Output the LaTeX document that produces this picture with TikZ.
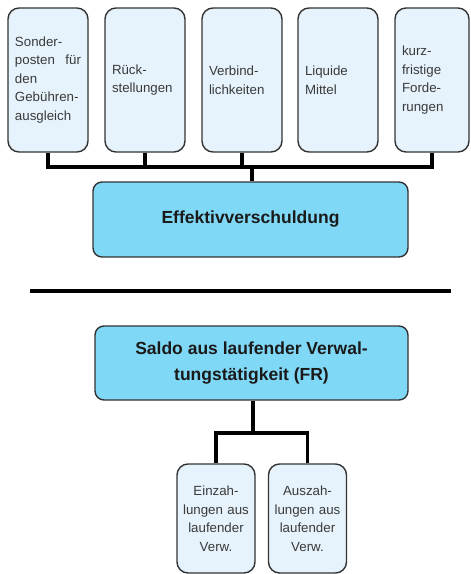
\documentclass[tikz,border=0pt]{standalone}
\usepackage{fontspec}
\setmainfont{Liberation Sans}
\definecolor{bordc}{HTML}{333333}
\definecolor{lightc}{HTML}{E6F3FC}
\definecolor{bluec}{HTML}{80D8F7}
\definecolor{txtc}{HTML}{3A3A3A}
\definecolor{darkc}{HTML}{1A1A1A}
\begin{document}
\begin{tikzpicture}[x=1pt,y=-1pt,
  smallbox/.style={draw=bordc, line width=1.4pt, fill=lightc, rounded corners=11pt,
    minimum height=144pt, inner xsep=7pt, inner ysep=0pt, text width=66pt, align=left,
    text=txtc, font=\fontsize{13.3pt}{18.5pt}\selectfont},
  lowbox/.style={smallbox, minimum height=109pt, inner xsep=4pt, text width=70pt, align=center},
  bigbox/.style={draw=bordc, line width=1.4pt, fill=bluec, rounded corners=9pt,
    minimum height=75pt, align=center, text=darkc,
    font=\fontsize{17.5pt}{26pt}\selectfont\bfseries},
  conn/.style={line width=3.3pt, draw=black},
  sep/.style={line width=3.6pt, draw=black}]
\useasboundingbox (0,0) rectangle (471,574);
% top row
\node[smallbox] (b1) at (48,80) {Sonder-\\posten\hskip 0pt plus 1filll für\\den\\Gebühren-\\ausgleich};
\node[smallbox] (b2) at (145,80) {Rück-\\stellungen};
\node[smallbox] (b3) at (242,80) {Verbind-\\lichkeiten};
\node[smallbox] (b4) at (338,80) {Liquide\\Mittel};
\node[smallbox, text width=60pt] (b5) at (432,80) {kurz-\\fristige\\Forde-\\rungen};
\node[bigbox, minimum width=315pt] (e) at (250.5,219.5) {Effektivverschuldung};
\coordinate (bus) at (252,167);
\draw[conn] (b1.south) |- (bus) -- (bus |- e.north);
\draw[conn] (b5.south) |- (bus);
\draw[conn] (b2.south) -- (b2.south |- bus);
\draw[conn] (b3.south) -- (b3.south |- bus);
% separator
\draw[sep] (30,291) -- (451,291);
% bottom part
\node[bigbox, minimum width=313pt, minimum height=74pt] (s) at (251.5,363)
  {Saldo aus laufender Verwal-\\tungstätigkeit (FR)};
\node[lowbox] (a) at (216,518.5) {Einzah-\\lungen aus\\laufender\\Verw.};
\node[lowbox] (c) at (307.5,518.5) {Auszah-\\lungen aus\\laufender\\Verw.};
\coordinate (fork) at (253,433);
\draw[conn] (fork |- s.south) -- (fork);
\draw[conn] (fork) -| (a.north);
\draw[conn] (fork) -| (c.north);
\end{tikzpicture}
\end{document}
